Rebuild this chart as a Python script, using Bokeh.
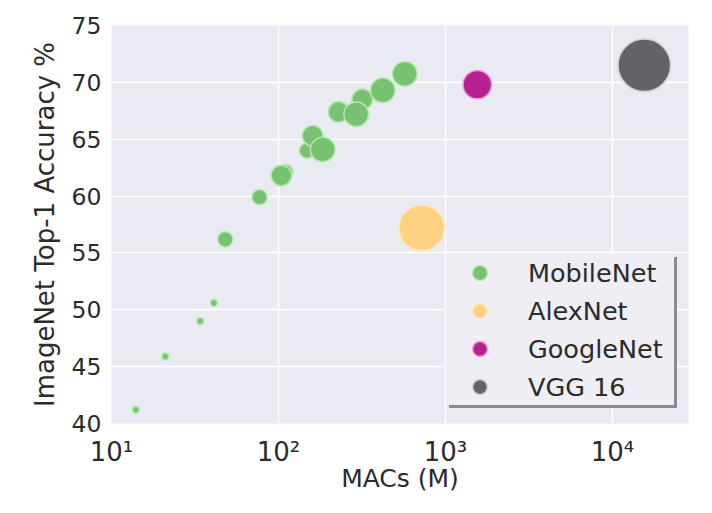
import numpy as np
from bokeh.plotting import figure
from bokeh.models import (ColumnDataSource, Legend, LegendItem, FixedTicker, Range1d,
                          CustomJSTickFormatter)
from bokeh.embed import file_html
from bokeh.resources import INLINE

# ---- data ----
mobilenet_macs = [14, 21, 34, 41, 48, 77, 110, 148, 104, 160, 229, 317, 184, 292, 421, 570]
mobilenet_acc = [41.2, 45.9, 49.0, 50.6, 56.2, 59.9, 62.1, 64.0, 61.8, 65.3, 67.4, 68.5, 64.1, 67.2, 69.3, 70.75]
mobilenet_params = [0.47, 0.47, 0.47, 0.47, 1.32, 1.32, 1.32, 1.32, 2.59, 2.59, 2.59, 2.59, 4.24, 4.24, 4.24, 4.24]

alexnet_macs = [720]
alexnet_acc = [57.2]
alexnet_params = [60]

googlenet_macs = [1550]
googlenet_acc = [69.8]
googlenet_params = [6.8]

vgg_macs = [15500]
vgg_acc = [71.5]
vgg_params = [138]

y_ticks = [40, 45, 50, 55, 60, 65, 70, 75]
x_ticks = [10, 100, 1000, 10000]

TEXT = "#2b2b2b"
FONT = "DejaVu Sans"

p = figure(width=712, height=513, x_axis_type="log",
           x_range=Range1d(10, 28500), y_range=Range1d(40, 75),
           output_backend="svg", toolbar_location=None,
           background_fill_color="#EAEAF2", border_fill_color="white",
           min_border_left=111, min_border_right=24, min_border_top=25, min_border_bottom=90)
p.outline_line_color = None


def size_of(params):
    return 13.0 + 18.5 * np.log10(np.asarray(params, dtype=float))


series = [
    ("MobileNet", mobilenet_macs, mobilenet_acc, mobilenet_params, "#76C271", "#B6E8AE"),
    ("AlexNet", alexnet_macs, alexnet_acc, alexnet_params, "#FFD283", "#FFE8BC"),
    ("GoogleNet", googlenet_macs, googlenet_acc, googlenet_params, "#B3228F", "#EE9AD6"),
    ("VGG 16", vgg_macs, vgg_acc, vgg_params, "#636367", "#D0D0D6"),
]

items = []
shadow_items = []
for name, xs, ys, ps, fc, lc in series:
    src = ColumnDataSource(dict(x=xs, y=ys, s=size_of(ps)))
    r = p.scatter("x", "y", size="s", source=src, fill_color=fc, line_color=lc,
                  line_width=1.5, fill_alpha=1.0)
    items.append(LegendItem(label=name, renderers=[r]))
    shadow_items.append(LegendItem(label=" ", renderers=[r]))

# axes styling
for ax in (p.xaxis, p.yaxis):
    ax.axis_line_color = None
    ax.major_tick_line_color = None
    ax.minor_tick_line_color = None
    ax.major_tick_out = 0
    ax.major_tick_in = 0
    ax.minor_tick_out = 0
    ax.minor_tick_in = 0
    ax.major_label_text_font = FONT
    ax.major_label_text_color = TEXT
    ax.axis_label_text_font = FONT
    ax.axis_label_text_font_style = "normal"
    ax.axis_label_text_color = TEXT

p.yaxis.ticker = FixedTicker(ticks=y_ticks)
p.yaxis.major_label_text_font_size = "23.5px"
p.yaxis.major_label_standoff = 10
p.yaxis.axis_label = "ImageNet Top-1 Accuracy %"
p.yaxis.axis_label_text_font_size = "26px"
p.yaxis.axis_label_standoff = 9

p.xaxis.ticker = FixedTicker(ticks=x_ticks, minor_ticks=[])
p.xaxis.formatter = CustomJSTickFormatter(code="""
const sup = {"0":"\u2070","1":"\u00b9","2":"\u00b2","3":"\u00b3","4":"\u2074",
             "5":"\u2075","6":"\u2076","7":"\u2077","8":"\u2078","9":"\u2079","-":"\u207b"};
const e = Math.round(Math.log10(tick));
return "10" + String(e).split("").map(c => sup[c]).join("");
""")
p.xaxis.major_label_text_font_size = "26px"
p.xaxis.major_label_standoff = 13
p.xaxis.axis_label = "MACs (M)"
p.xaxis.axis_label_text_font_size = "25px"
p.xaxis.axis_label_standoff = -6

p.xgrid.grid_line_color = "white"
p.ygrid.grid_line_color = "white"
p.xgrid.grid_line_width = 1.5
p.ygrid.grid_line_width = 1.5
p.xgrid.minor_grid_line_color = None

legend_kw = dict(orientation="vertical", padding=5, spacing=1,
                 glyph_width=67, glyph_height=37, label_height=37,
                 label_width=146, label_standoff=15,
                 label_text_font=FONT, label_text_font_size="25.5px",
                 border_line_color=None, background_fill_alpha=1.0)

shadow = Legend(items=shadow_items, location=(338, 15), background_fill_color="#88888D",
                label_text_alpha=0.0, **legend_kw)
legend = Legend(items=items, location=(335, 18), background_fill_color="#EEEEF4",
                label_text_color=TEXT, **legend_kw)
p.add_layout(shadow, "center")
p.add_layout(legend, "center")

open("out.html", "w").write(file_html(p, INLINE))
